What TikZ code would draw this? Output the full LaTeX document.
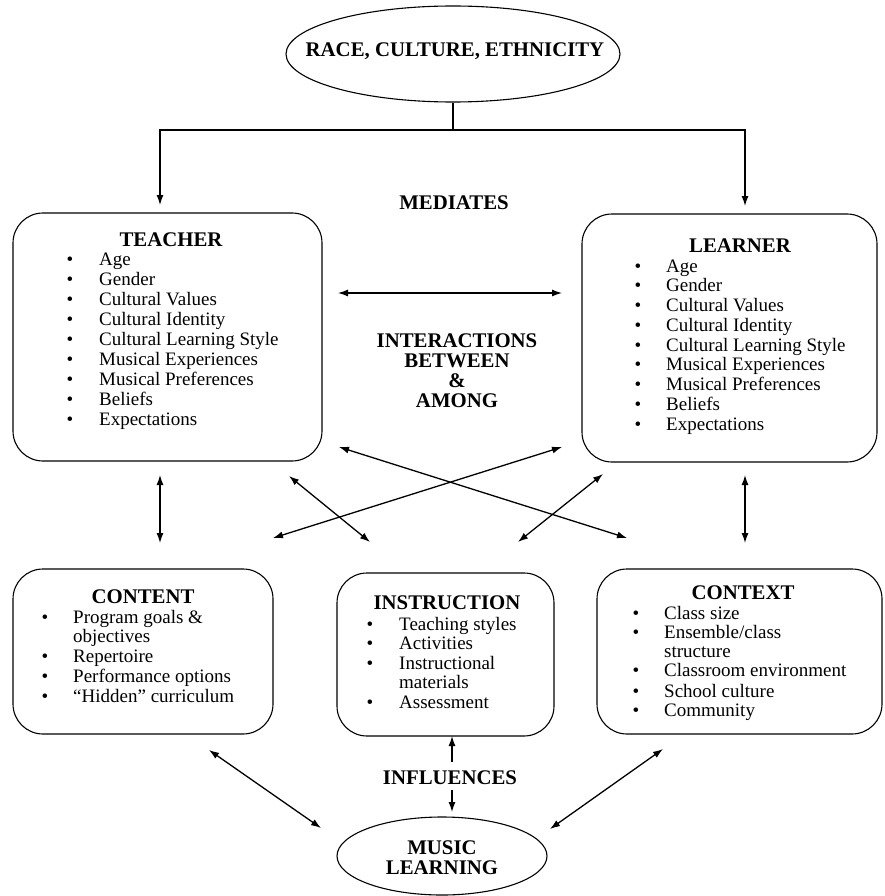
\documentclass[tikz,border=0pt]{standalone}
\usepackage{fontspec}
\setmainfont{Liberation Serif}
\usetikzlibrary{arrows.meta,shapes.geometric}
\begin{document}
\begin{tikzpicture}[x=1pt,y=-1pt,
    >={Latex[length=10pt,width=7pt]},
    box/.style={draw, line width=1.1pt, rounded corners=30pt, inner sep=0pt},
    oval/.style={draw, ellipse, line width=1.1pt, inner sep=0pt},
    head/.style={font=\fontsize{20.8}{20}\selectfont\bfseries, inner sep=0pt, text height=14pt, text depth=0pt},
    item/.style={font=\fontsize{19}{20}\selectfont, anchor=west, inner sep=0pt, text height=12pt, text depth=0pt},
    dot/.style={font=\fontsize{19}{20}\selectfont, inner sep=0pt, text height=12pt, text depth=0pt},
    link/.style={line width=1.3pt}]
\useasboundingbox (0,0) rectangle (884,896);
% ovals and boxes
\node[oval, minimum width=334, minimum height=96] (race) at (453,54) {};
\node[oval, minimum width=210, minimum height=78] (music) at (442,856) {};
\node[box, minimum width=309, minimum height=248] (teacher) at (167.5,337) {};
\node[box, minimum width=295, minimum height=248] (learner) at (729.5,338) {};
\node[box, minimum width=260, minimum height=165] (content) at (143,651.5) {};
\node[box, minimum width=217, minimum height=163] (instruction) at (445.5,654.5) {};
\node[box, minimum width=285, minimum height=165] (context) at (739.5,651.5) {};
% labels
\node[head] (racetxt) at (455,50) {RACE, CULTURE, ETHNICITY};
\node[head] (mediates) at (454,202) {MEDIATES};
\foreach \t [count=\i] in {INTERACTIONS, BETWEEN, \&, AMONG}
    \node[head] (inter\i) at (457, 320+20*\i) {\t};
\node[head] (influences) at (450,777) {INFLUENCES};
\node[head] (music1) at (442,847) {MUSIC};
\node[head] (music2) at (442,867) {LEARNING};
% teacher
\node[head] (teachhead) at (171,239) {TEACHER};
\foreach \t [count=\i] in {Age, Gender, Cultural Values, Cultural Identity, Cultural Learning Style, Musical Experiences, Musical Preferences, Beliefs, Expectations} {
    \node[dot] (tb\i) at (70, 239+20*\i) {\textbullet};
    \node[item] (ti\i) at (99, 239+20*\i) {\t};
}
% learner
\node[head] (learnhead) at (740,245) {LEARNER};
\foreach \t [count=\i] in {Age, Gender, Cultural Values, Cultural Identity, Cultural Learning Style, Musical Experiences, Musical Preferences, Beliefs, Expectations} {
    \node[dot] (lb\i) at (638, 246.25+19.75*\i) {\textbullet};
    \node[item] (li\i) at (666, 246.25+19.75*\i) {\t};
}
% content
\node[head] (conthead) at (143,596) {CONTENT};
\foreach \y [count=\i] in {617,656,676,696}
    \node[dot] (cb\i) at (45,\y) {\textbullet};
\foreach \y/\t [count=\i] in {617/Program goals \&, 636/objectives, 656/Repertoire, 676/Performance options, 696/“Hidden” curriculum}
    \node[item] (ci\i) at (73,\y) {\t};
% instruction
\node[head] (insthead) at (447,602) {INSTRUCTION};
\foreach \y [count=\i] in {624,643,663,702}
    \node[dot] (ib\i) at (370,\y) {\textbullet};
\foreach \y/\t [count=\i] in {624/Teaching styles, 643/Activities, 663/Instructional, 682/materials, 702/Assessment}
    \node[item] (ii\i) at (399,\y) {\t};
% context
\node[head] (conxhead) at (743,592) {CONTEXT};
\foreach \y [count=\i] in {613,632,670,691,710}
    \node[dot] (xb\i) at (636,\y) {\textbullet};
\foreach \y/\t [count=\i] in {613/Class size, 632/{Ensemble/class}, 651/structure, 670/Classroom environment, 691/School culture, 710/Community}
    \node[item] (xi\i) at (664,\y) {\t};
% arrow ends
\coordinate (split) at (453,130);
\coordinate (toteach) at (160,205);
\coordinate (tolearn) at (745,206);
\coordinate (mid1) at (338,293);
\coordinate (mid2) at (562,293);
\coordinate (tc1) at (160,475);
\coordinate (tc2) at (160,543);
\coordinate (lx1) at (745,475);
\coordinate (lx2) at (745,543);
\coordinate (tx1) at (339,447);
\coordinate (tx2) at (627,538);
\coordinate (lc1) at (562,447);
\coordinate (lc2) at (273,538);
\coordinate (ti1) at (289,476);
\coordinate (ti2) at (370,542);
\coordinate (li1) at (603,474);
\coordinate (li2) at (518,542);
\coordinate (cm1) at (209,750);
\coordinate (cm2) at (321,828);
\coordinate (xm1) at (663,749);
\coordinate (xm2) at (550,829);
\coordinate (inf1) at (452,762);
\coordinate (inf2) at (452,736);
\coordinate (inf3) at (452,790);
\coordinate (inf4) at (452,812);
% connectors
\draw[link, ->] (race.south) -- (split) -| (toteach);
\draw[link, ->] (split) -| (tolearn);
\draw[link, <->] (mid1) -- (mid2);
\draw[link, <->] (tc1) -- (tc2);
\draw[link, <->] (lx1) -- (lx2);
\draw[link, <->] (tx1) -- (tx2);
\draw[link, <->] (lc1) -- (lc2);
\draw[link, <->] (ti1) -- (ti2);
\draw[link, <->] (li1) -- (li2);
\draw[link, <->] (cm1) -- (cm2);
\draw[link, <->] (xm1) -- (xm2);
\draw[link, ->] (inf1) -- (inf2);
\draw[link, ->] (inf3) -- (inf4);
\end{tikzpicture}
\end{document}
